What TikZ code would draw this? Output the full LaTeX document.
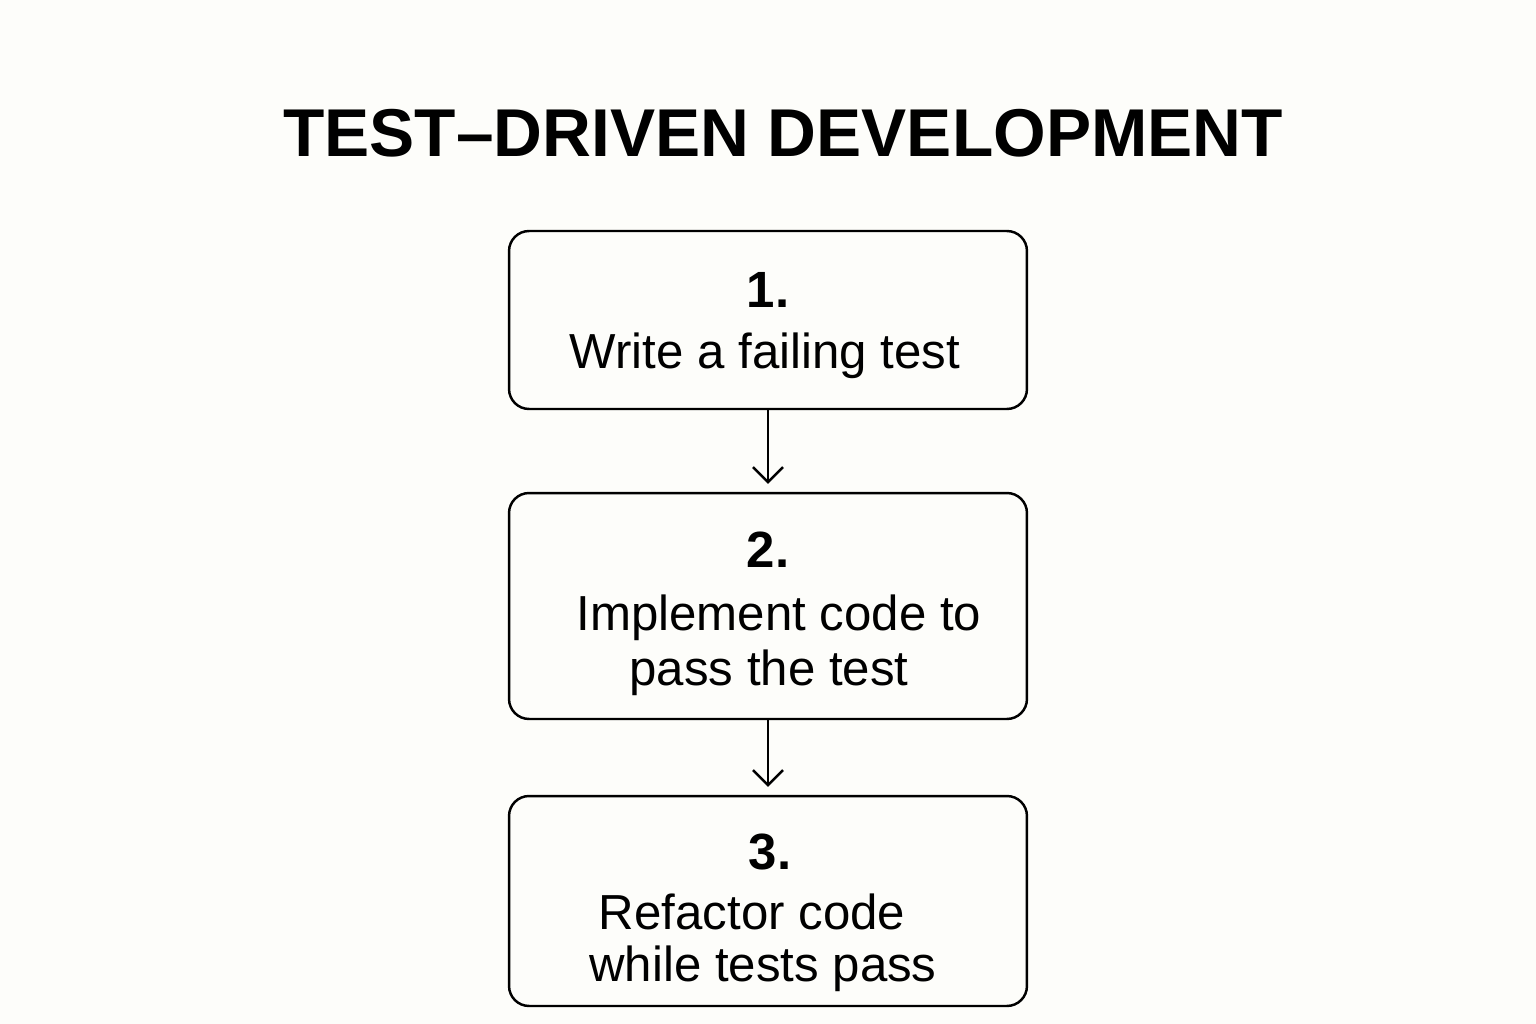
\documentclass[tikz,border=0pt]{standalone}
\usepackage{fontspec}
\setmainfont{Liberation Sans}
\usetikzlibrary{positioning,arrows.meta}
\definecolor{paper}{HTML}{FDFDFA}
\tikzset{
  stepbox/.style={rectangle, draw, rounded corners=0.4cm, line width=1.4pt, minimum width=10.36cm},
  numtext/.style={font=\fontsize{29}{34}\selectfont\bfseries},
  bodytext/.style={font=\fontsize{28}{33}\selectfont, align=center},
  flow/.style={-{Straight Barb[length=0.3cm, width=0.6cm, line width=1.4pt]}, line width=1.4pt, shorten >=0.16cm}
}
\begin{document}
\begin{tikzpicture}[x=0.02cm, y=-0.02cm]
    % Frame
    \fill [paper] (0,0) rectangle (1536,1024);
    \useasboundingbox (0,0) rectangle (1536,1024);
    % Title
    \node [font=\fontsize{38.5}{45}\selectfont\bfseries] (title) at (783,133) {TEST–DRIVEN DEVELOPMENT};
    % Boxes
    \node [stepbox, minimum height=3.56cm] (write) at (768,320) {};
    \node [stepbox, minimum height=4.52cm] (impl) at (768,606) {};
    \node [stepbox, minimum height=4.2cm] (refac) at (768,901) {};
    % Texts
    \node [numtext] (n1) at (768,290) {1.};
    \node [bodytext] (t1) at (765,356) {Write a failing test};
    \node [numtext] (n2) at (768,550) {2.};
    \node [bodytext] (t2a) at (779,618) {Implement code to};
    \node [bodytext] (t2b) at (769,673) {pass the test};
    \node [numtext] (n3) at (770,852) {3.};
    \node [bodytext] (t3a) at (752,912) {Refactor code};
    \node [bodytext] (t3b) at (763,969) {while tests pass};
    % Path
    \draw [flow] (write.south) -- (impl.north);
    \draw [flow] (impl.south) -- (refac.north);
\end{tikzpicture}
\end{document}
